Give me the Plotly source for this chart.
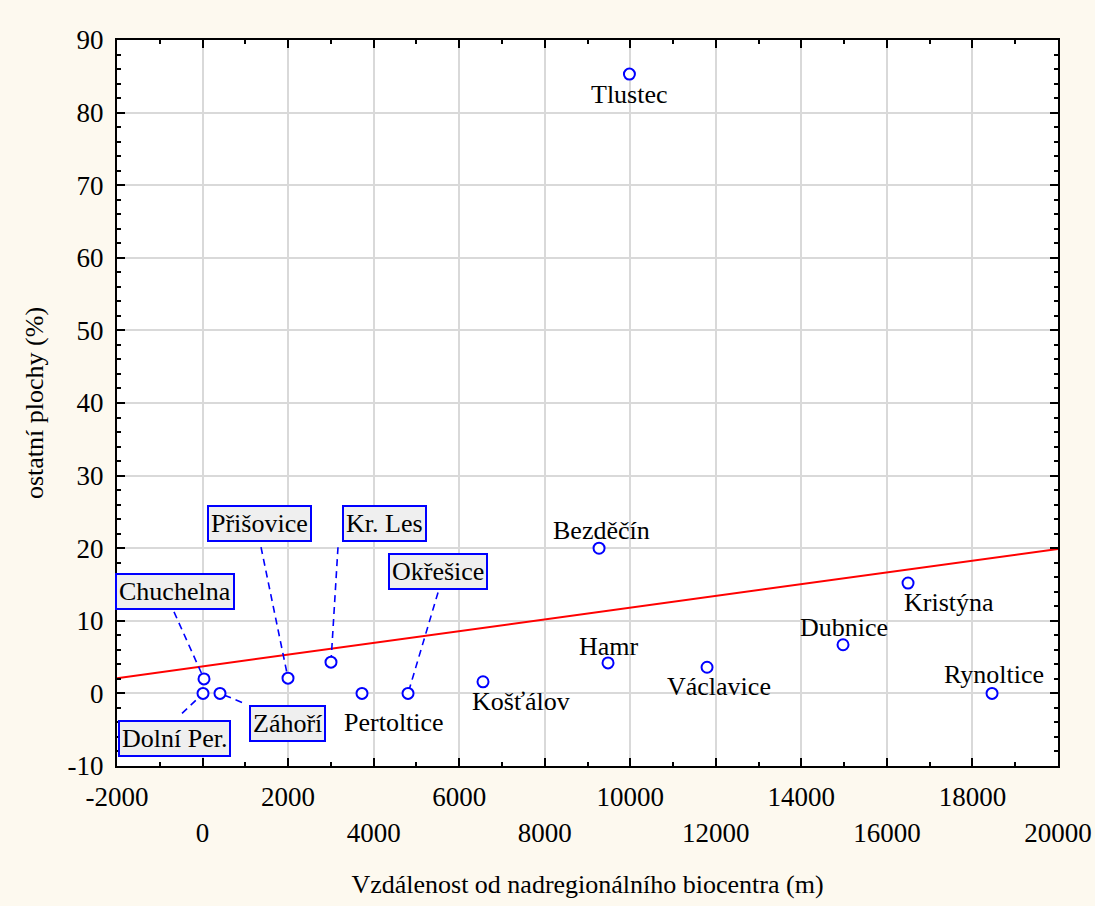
import plotly.graph_objects as go

# --- data -----------------------------------------------------------------
sites = ["Tlustec", "Bezděčín", "Hamr", "Václavice", "Dubnice", "Kristýna",
         "Rynoltice", "Košťálov", "Pertoltice", "Okřešice", "Kr. Les",
         "Přišovice", "Chuchelna", "Dolní Per.", "Záhoří"]
distance_m = [9980, 9270, 9480, 11795, 14974, 16494,
              18458, 6557, 3728, 4804, 3003,
              1998, 34, 11, 408]
other_area_pct = [85.3, 20.0, 4.2, 3.6, 6.7, 15.2,
                  0.0, 1.6, 0.0, 0.0, 4.3,
                  2.1, 2.0, 0.0, 0.0]

# linear fit drawn across the whole x range
trend_x = [-2000, 20000]
trend_y = [2.1, 19.9]

x_ticks = list(range(-2000, 20001, 2000))
y_ticks = list(range(-10, 91, 10))

# --- layout constants -----------------------------------------------------
W, H = 1095, 906
ML, MR, MT, MB = 117, 37, 40, 140
X_RANGE = [-2000, 20000]
Y_RANGE = [-10, 90]
px_per_x = (W - ML - MR) / (X_RANGE[1] - X_RANGE[0])
px_per_y = (H - MT - MB) / (Y_RANGE[1] - Y_RANGE[0])

FONT = "Liberation Serif, Times New Roman, serif"
BLUE = "#0000FF"

# label placement in screen pixels relative to the point (dx right, dy down)
plain_labels = {
    "Tlustec": (0, 20), "Bezděčín": (2, -17.5), "Hamr": (1, -16.5),
    "Václavice": (11.5, 19), "Dubnice": (0.5, -17.5), "Kristýna": (40.5, 19),
    "Rynoltice": (1.5, -19), "Košťálov": (37.5, 19.5), "Pertoltice": (31.5, 29),
}
# boxed labels: box centre offset and the box end of the dashed leader
boxed_labels = {
    "Chuchelna": ((-29, -87.5), (-30, -67)),
    "Přišovice": ((-28.5, -155), (-27, -131)),
    "Kr. Les": ((54, -139), (7, -115)),
    "Okřešice": ((29.5, -122), (30, -101)),
    "Dolní Per.": ((-29, 45.5), (-21, 20)),
    "Záhoří": ((67.5, 30), (22, 9)),
}

fig = go.Figure()

# regression line
fig.add_trace(go.Scatter(x=trend_x, y=trend_y, mode="lines",
                         line=dict(color="#FF0000", width=2),
                         hoverinfo="skip", showlegend=False))

# dashed leaders from boxed labels to their points
for name, (_, (lx, ly)) in boxed_labels.items():
    i = sites.index(name)
    x0, y0 = distance_m[i], other_area_pct[i]
    fig.add_trace(go.Scatter(
        x=[x0 + lx / px_per_x, x0], y=[y0 - ly / px_per_y, y0],
        mode="lines", line=dict(color=BLUE, width=1.6, dash="7px,5px"),
        hoverinfo="skip", showlegend=False))

# points
fig.add_trace(go.Scatter(
    x=distance_m, y=other_area_pct, mode="markers", text=sites,
    marker=dict(symbol="circle", size=11, color="white",
                line=dict(color=BLUE, width=2)),
    showlegend=False))

annotations = []
for name, (dx, dy) in plain_labels.items():
    i = sites.index(name)
    annotations.append(dict(
        x=distance_m[i], y=other_area_pct[i], xref="x", yref="y",
        text=name, showarrow=False, xshift=dx, yshift=-dy,
        font=dict(family=FONT, size=26, color="black")))
for name, ((dx, dy), _) in boxed_labels.items():
    i = sites.index(name)
    annotations.append(dict(
        x=distance_m[i], y=other_area_pct[i], xref="x", yref="y",
        text=name, showarrow=False, xshift=dx, yshift=-dy,
        bgcolor="#EFEFEF", bordercolor=BLUE, borderwidth=2, borderpad=2,
        font=dict(family=FONT, size=26, color="black")))

# two staggered rows of x tick labels
x_ticktext = []
for k, v in enumerate(x_ticks):
    s = str(v)
    x_ticktext.append(s if k % 2 == 0 else "\u00a0<br>" + s)

axis_common = dict(
    showline=True, linecolor="black", linewidth=2, mirror="ticks",
    ticks="inside", ticklen=8, tickwidth=2, tickcolor="black",
    showgrid=True, gridcolor="#D9D9D9", gridwidth=1.5, zeroline=False,
    automargin=False,
    tickfont=dict(family=FONT, size=27, color="black"),
)

fig.update_layout(
    width=W, height=H,
    margin=dict(l=ML, r=MR, t=MT, b=MB, pad=0, autoexpand=False),
    paper_bgcolor="#FDF9EF", plot_bgcolor="white",
    font=dict(family=FONT, color="black"),
    annotations=annotations,
    xaxis=dict(
        range=X_RANGE, tickmode="array", tickvals=x_ticks, ticktext=x_ticktext,
        ticklabelstandoff=6,
        minor=dict(tickmode="linear", tick0=-2000, dtick=1000, ticks="inside",
                   ticklen=4, tickwidth=1.5, tickcolor="black", showgrid=False),
        title=dict(text="Vzdálenost od nadregionálního biocentra (m)",
                   font=dict(family=FONT, size=26), standoff=28),
        **axis_common),
    yaxis=dict(
        range=Y_RANGE, tickmode="array", tickvals=y_ticks,
        ticktext=[str(v) for v in y_ticks], ticklabelstandoff=6,
        minor=dict(tickmode="linear", tick0=-10, dtick=2, ticks="inside",
                   ticklen=4, tickwidth=1.5, tickcolor="black", showgrid=False),
        title=dict(text="ostatní plochy (%)",
                   font=dict(family=FONT, size=26), standoff=16),
        **axis_common),
)

fig.write_html("out.html")
